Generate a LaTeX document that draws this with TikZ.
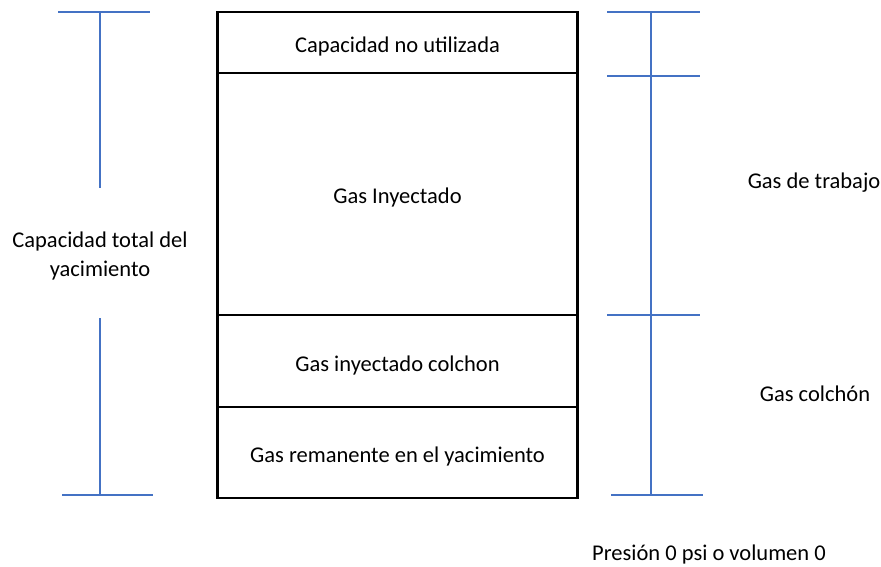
\documentclass[tikz,border=0pt]{standalone}
\usepackage{fontspec}
\setmainfont{Carlito}
\usetikzlibrary{positioning}
\definecolor{barblue}{RGB}{68,114,196}

\begin{document}
\begin{tikzpicture}[x=1pt,y=-1pt,
  layer/.style={rectangle,draw,line width=2.8pt,minimum width=360pt,outer sep=0pt,inner sep=0pt,text height=25pt,text depth=5pt,align=center,font=\fontsize{22.5}{29}\selectfont},
  bar/.style={draw=barblue,line width=2.9pt},
  lbl/.style={align=center,font=\fontsize{22.5}{29}\selectfont},
  node distance=0pt
]
\useasboundingbox (0,0) rectangle (881,567);
% storage column
\node[layer,minimum height=61pt,anchor=north] (unused) at (397.5,12) {Capacidad no utilizada};
\node[layer,minimum height=242pt,below=of unused] (injected) {Gas Inyectado};
\node[layer,minimum height=92pt,below=of injected] (cushioninj) {Gas inyectado colchon};
\node[layer,minimum height=91pt,below=of cushioninj] (remnant) {Gas remanente en el yacimiento};
% left bar
\coordinate (ltop) at (100,12);
\coordinate (lgap1) at (100,188);
\coordinate (lgap2) at (100,318);
\coordinate (lbot) at (100,495);
\draw[bar] (58,12) -- (150,12);
\draw[bar] (62,495) -- (153,495);
\draw[bar] (ltop) -- (lgap1);
\draw[bar] (lgap2) -- (lbot);
\node[lbl] (total) at (100,256) {Capacidad total del\\yacimiento};
% right bar
\coordinate (rtop) at (651,12);
\coordinate (rbot) at (651,495);
\draw[bar] (rtop) -- (rbot);
\foreach \y in {12,76,315} \draw[bar] (607,\y) -- (700,\y);
\draw[bar] (611,495) -- (703,495);
\node[lbl] (working) at (814,183) {Gas de trabajo};
\node[lbl] (cushion) at (815,394) {Gas colchón};
\node[lbl] (zero) at (709,554) {Presión 0 psi o volumen 0};
\end{tikzpicture}
\end{document}
